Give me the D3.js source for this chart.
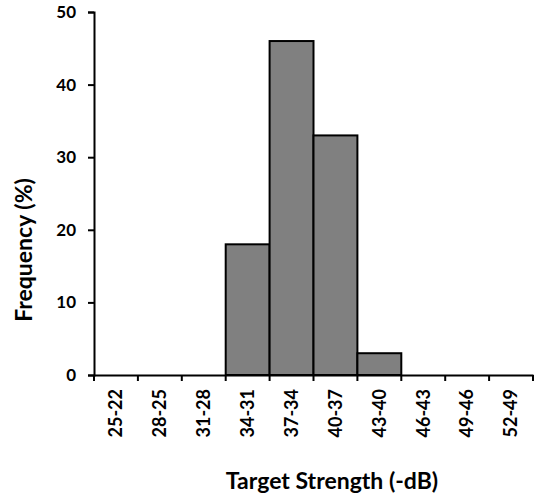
<!DOCTYPE html>
<html>
<head>
<meta charset="utf-8">
<script src="https://cdn.jsdelivr.net/npm/d3@7"></script>
<style>
  body { margin: 0; background: #fff; }
  text { font-family: Lato, "Open Sans", sans-serif; font-weight: bold; }
</style>
</head>
<body>
<div id="chart"></div>
<script>
// Histogram bins (labels as shown) and frequencies in percent
const bins = ["25-22", "28-25", "31-28", "34-31", "37-34", "40-37", "43-40", "46-43", "49-46", "52-49"];
const freq = [0, 0, 0, 18, 46, 33, 3, 0, 0, 0];
const yTicks = [0, 10, 20, 30, 40, 50];

const data = bins.map((b, i) => ({ bin: b, value: freq[i] }));

const width = 537, height = 500;
const margin = {top: 12, right: 4, bottom: 125, left: 94};

const svg = d3.select("#chart").append("svg")
    .attr("width", width)
    .attr("height", height);

const x = d3.scaleBand()
    .domain(bins)
    .range([margin.left, width - margin.right])
    .padding(0);

const y = d3.scaleLinear()
    .domain([0, 50])
    .range([height - margin.bottom, margin.top]);

// Bars
svg.append("g")
    .selectAll("rect")
    .data(data.filter(d => d.value > 0))
    .enter().append("rect")
    .attr("x", d => x(d.bin))
    .attr("y", d => y(d.value))
    .attr("width", x.bandwidth())
    .attr("height", d => y(0) - y(d.value))
    .attr("fill", "#808080")
    .attr("stroke", "#000")
    .attr("stroke-width", 2);

// Y axis
const yAxis = svg.append("g")
    .attr("transform", `translate(${margin.left},0)`)
    .call(d3.axisLeft(y).tickValues(yTicks).tickSize(6).tickPadding(12));
yAxis.select(".domain").attr("stroke-width", 2);
yAxis.selectAll(".tick line").attr("stroke-width", 2);
yAxis.selectAll("text").style("font-size", "17px").attr("fill", "#000");

// X axis: labels centered on bins, tick marks at bin edges
const xAxis = svg.append("g")
    .attr("transform", `translate(0,${y(0)})`)
    .call(d3.axisBottom(x).tickSize(0).tickSizeOuter(0));
xAxis.select(".domain").attr("stroke-width", 2);
xAxis.selectAll("text")
    .style("font-size", "18px")
    .attr("fill", "#000")
    .attr("transform", "rotate(-90)")
    .attr("text-anchor", "end")
    .attr("x", -14)
    .attr("y", 0)
    .attr("dy", "0.35em");

const edges = bins.map(b => x(b)).concat([x.range()[1]]);
svg.append("g")
    .selectAll("line")
    .data(edges)
    .enter().append("line")
    .attr("x1", d => d)
    .attr("x2", d => d)
    .attr("y1", y(0))
    .attr("y2", y(0) + 6)
    .attr("stroke", "#000")
    .attr("stroke-width", 2);

// Axis titles
svg.append("text")
    .attr("text-anchor", "middle")
    .attr("x", 332)
    .attr("y", 489)
    .style("font-size", "23px")
    .text("Target Strength (-dB)");

svg.append("text")
    .attr("text-anchor", "middle")
    .attr("transform", "rotate(-90)")
    .attr("x", -250)
    .attr("y", 32)
    .style("font-size", "23px")
    .text("Frequency (%)");
</script>
</body>
</html>
